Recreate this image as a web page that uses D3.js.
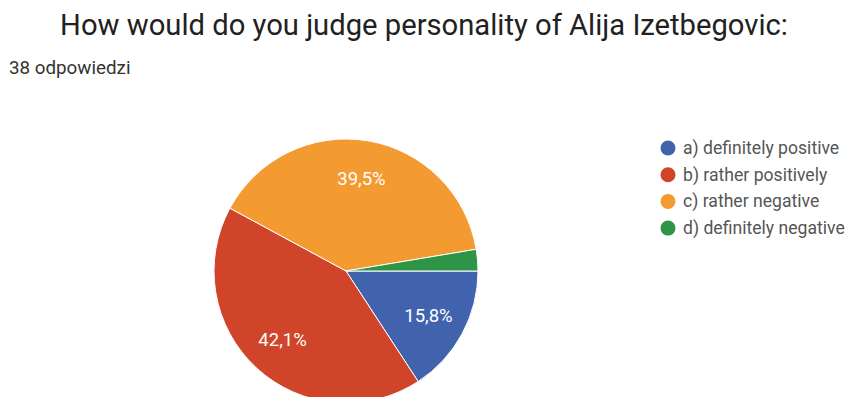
<!DOCTYPE html>
<html><head><meta charset="utf-8">
<script src="https://cdn.jsdelivr.net/npm/d3@7"></script>
<style>body{margin:0;background:#fff;}svg{display:block;}</style>
</head><body>
<svg id="c" width="848" height="397"></svg>
<script>
const categories = ["a) definitely positive","b) rather positively","c) rather negative","d) definitely negative"];
const counts = [6,16,15,1];
const colors = ["#4163ae","#d0452a","#f39a30","#2e9446"];
const titleText = "How would do you judge personality of Alija Izetbegovic:";
const subtitleText = "38 odpowiedzi";

const svg = d3.select("#c");
const W = 848, H = 397;
svg.append("text").attr("x", W/2).attr("y", 35).attr("text-anchor","middle")
  .attr("font-family","Roboto, sans-serif").attr("font-size",29.2).attr("fill","#212121").text(titleText);
svg.append("text").attr("x", 9).attr("y", 74)
  .attr("font-family","Roboto, sans-serif").attr("font-size",18.8).attr("fill","#333").text(subtitleText);

const cx = 346, cy = 271, R = 132;
const total = d3.sum(counts);
const pie = d3.pie().sort(null).startAngle(Math.PI/2).endAngle(Math.PI/2 + 2*Math.PI);
const arcs = pie(counts);
const arc = d3.arc().innerRadius(0).outerRadius(R);
const labelArc = d3.arc().innerRadius(R*0.71).outerRadius(R*0.71);
const g = svg.append("g").attr("transform",`translate(${cx},${cy})`);
g.selectAll("path").data(arcs).join("path").attr("d",arc)
  .attr("fill",(d,i)=>colors[i]).attr("stroke","#fff").attr("stroke-width",1);
const fmt = v => (v/total*100).toFixed(1).replace(".",",") + "%";
g.selectAll("text").data(arcs.filter(d => d.data/total > 0.05)).join("text")
  .attr("transform", d => `translate(${labelArc.centroid(d)})`)
  .attr("text-anchor","middle").attr("dominant-baseline","central")
  .attr("font-family","Roboto, sans-serif").attr("font-size",18.5).attr("fill","#fff")
  .text(d => fmt(d.data));

const lg = svg.append("g");
const rows = lg.selectAll("g").data(categories).join("g")
  .attr("transform",(d,i)=>`translate(668,${148 + i*26.7})`);
rows.append("circle").attr("r",7.5).attr("fill",(d,i)=>colors[i]);
rows.append("text").attr("x",15).attr("dominant-baseline","central")
  .attr("font-family","Roboto, sans-serif").attr("font-size",17.6).attr("fill","#555").text(d=>d);
</script>
</body></html>
